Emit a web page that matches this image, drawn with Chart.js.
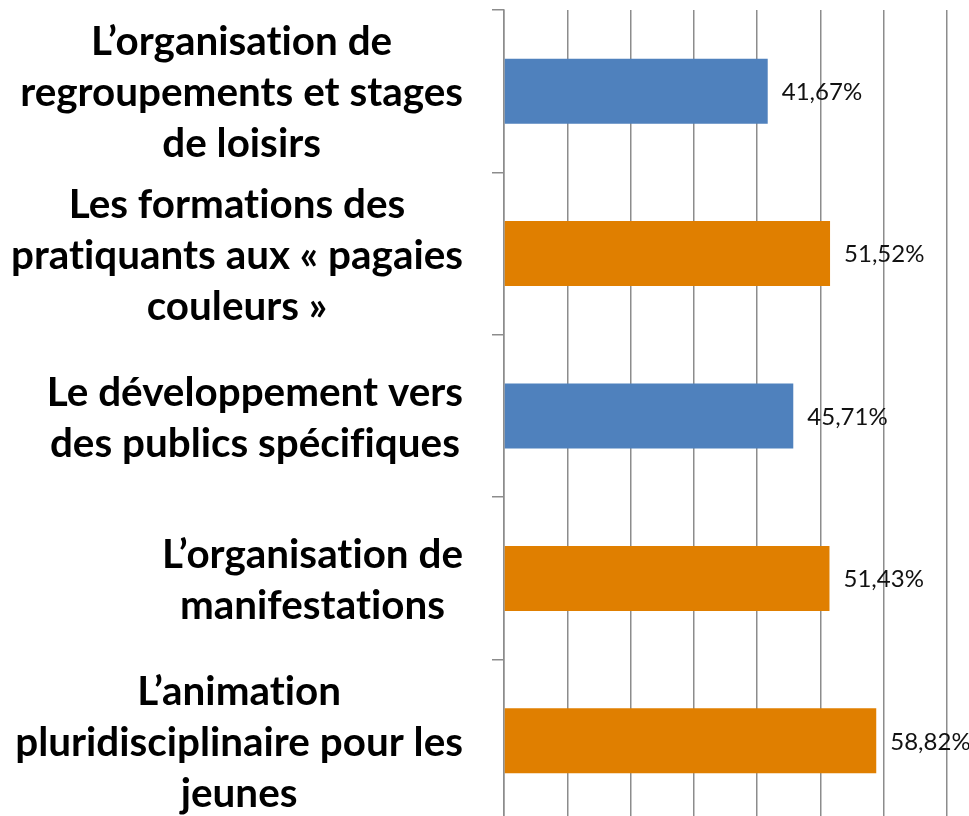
<!DOCTYPE html>
<html>
<head>
<meta charset="utf-8">
<script src="https://cdn.jsdelivr.net/npm/chart.js@4"></script>
<style>
  html, body { margin: 0; padding: 0; background: #fff; overflow: hidden; }
  #wrap { width: 969px; height: 832px; }
</style>
</head>
<body>
<div id="wrap"><canvas id="grafico" width="969" height="832"></canvas></div>
<script>
// Libellés des catégories (une ligne par élément)
const categories = [
    ["L\u2019organisation de", "regroupements et stages", "de loisirs"],
    ["Les formations des", "pratiquants aux \u00ab pagaies", "couleurs \u00bb"],
    ["Le d\u00e9veloppement vers", "des publics sp\u00e9cifiques"],
    ["L\u2019organisation de", "manifestations"],
    ["L\u2019animation", "pluridisciplinaire pour les", "jeunes"]
];
// Pourcentages
const valeurs = [41.67, 51.52, 45.71, 51.43, 58.82];
const etiquettes = ["41,67%", "51,52%", "45,71%", "51,43%", "58,82%"];
const couleurs = ["#4F81BD", "#E07F00", "#4F81BD", "#E07F00", "#E07F00"];

const gris = "#8C8C8C";
const policeTitre = "Lato";

// Plugin : libellés des catégories (centrés ligne par ligne) et valeurs en bout de barre
const etiquettesPlugin = {
    id: 'etiquettes',
    afterDraw(chart) {
        const c = chart.ctx;
        const y = chart.scales.y;
        const meta = chart.getDatasetMeta(0);
        c.save();
        // pas de ligatures (ti, fi) comme dans l'original
        c.letterSpacing = "0.01px";
        c.fillStyle = "#000";
        c.textBaseline = "middle";
        c.textAlign = "center";
        // taille de police ajustée sur la ligne la plus longue
        c.font = "bold 36px " + policeTitre;
        const ref = c.measureText("pluridisciplinaire pour les").width;
        const taille = 36 * 448 / ref;
        c.font = "bold " + taille.toFixed(1) + "px " + policeTitre;
        const droite = 463;
        const interligne = 51;
        categories.forEach((lignes, i) => {
            const cy = y.getPixelForValue(i) + 2;
            const maxW = Math.max(...lignes.map(l => c.measureText(l).width));
            const cx = droite - maxW / 2;
            lignes.forEach((l, k) => {
                c.fillText(l, cx, cy + (k - (lignes.length - 1) / 2) * interligne);
            });
        });
        // valeurs
        c.font = "24px " + policeTitre;
        c.textAlign = "left";
        c.fillStyle = "#111";
        meta.data.forEach((bar, i) => {
            c.fillText(etiquettes[i], bar.x + 14, bar.y + 1);
        });
        c.restore();
    }
};

const ctx = document.getElementById('grafico');
new Chart(ctx, {
    type: 'bar',
    data: {
        labels: categories,
        datasets: [{
            data: valeurs,
            backgroundColor: couleurs,
            borderWidth: 0,
            barPercentage: 0.4,
            categoryPercentage: 1.0
        }]
    },
    options: {
        indexAxis: 'y',
        responsive: false,
        animation: false,
        events: [],
        layout: { padding: { top: 10, right: 22, bottom: 10, left: 0 } },
        plugins: {
            legend: { display: false },
            tooltip: { enabled: false }
        },
        scales: {
            x: {
                min: 0,
                max: 70,
                ticks: { display: false, stepSize: 10 },
                grid: { color: gris, lineWidth: 1.5, drawTicks: false },
                border: { display: false }
            },
            y: {
                ticks: { display: false },
                afterFit: (s) => { s.width = 504; },
                grid: {
                    offset: true,
                    drawOnChartArea: false,
                    drawTicks: true,
                    tickLength: 12,
                    color: gris,
                    lineWidth: 1.5
                },
                border: { display: true, color: gris, width: 1.5 }
            }
        }
    },
    plugins: [etiquettesPlugin]
});
</script>
</body>
</html>
